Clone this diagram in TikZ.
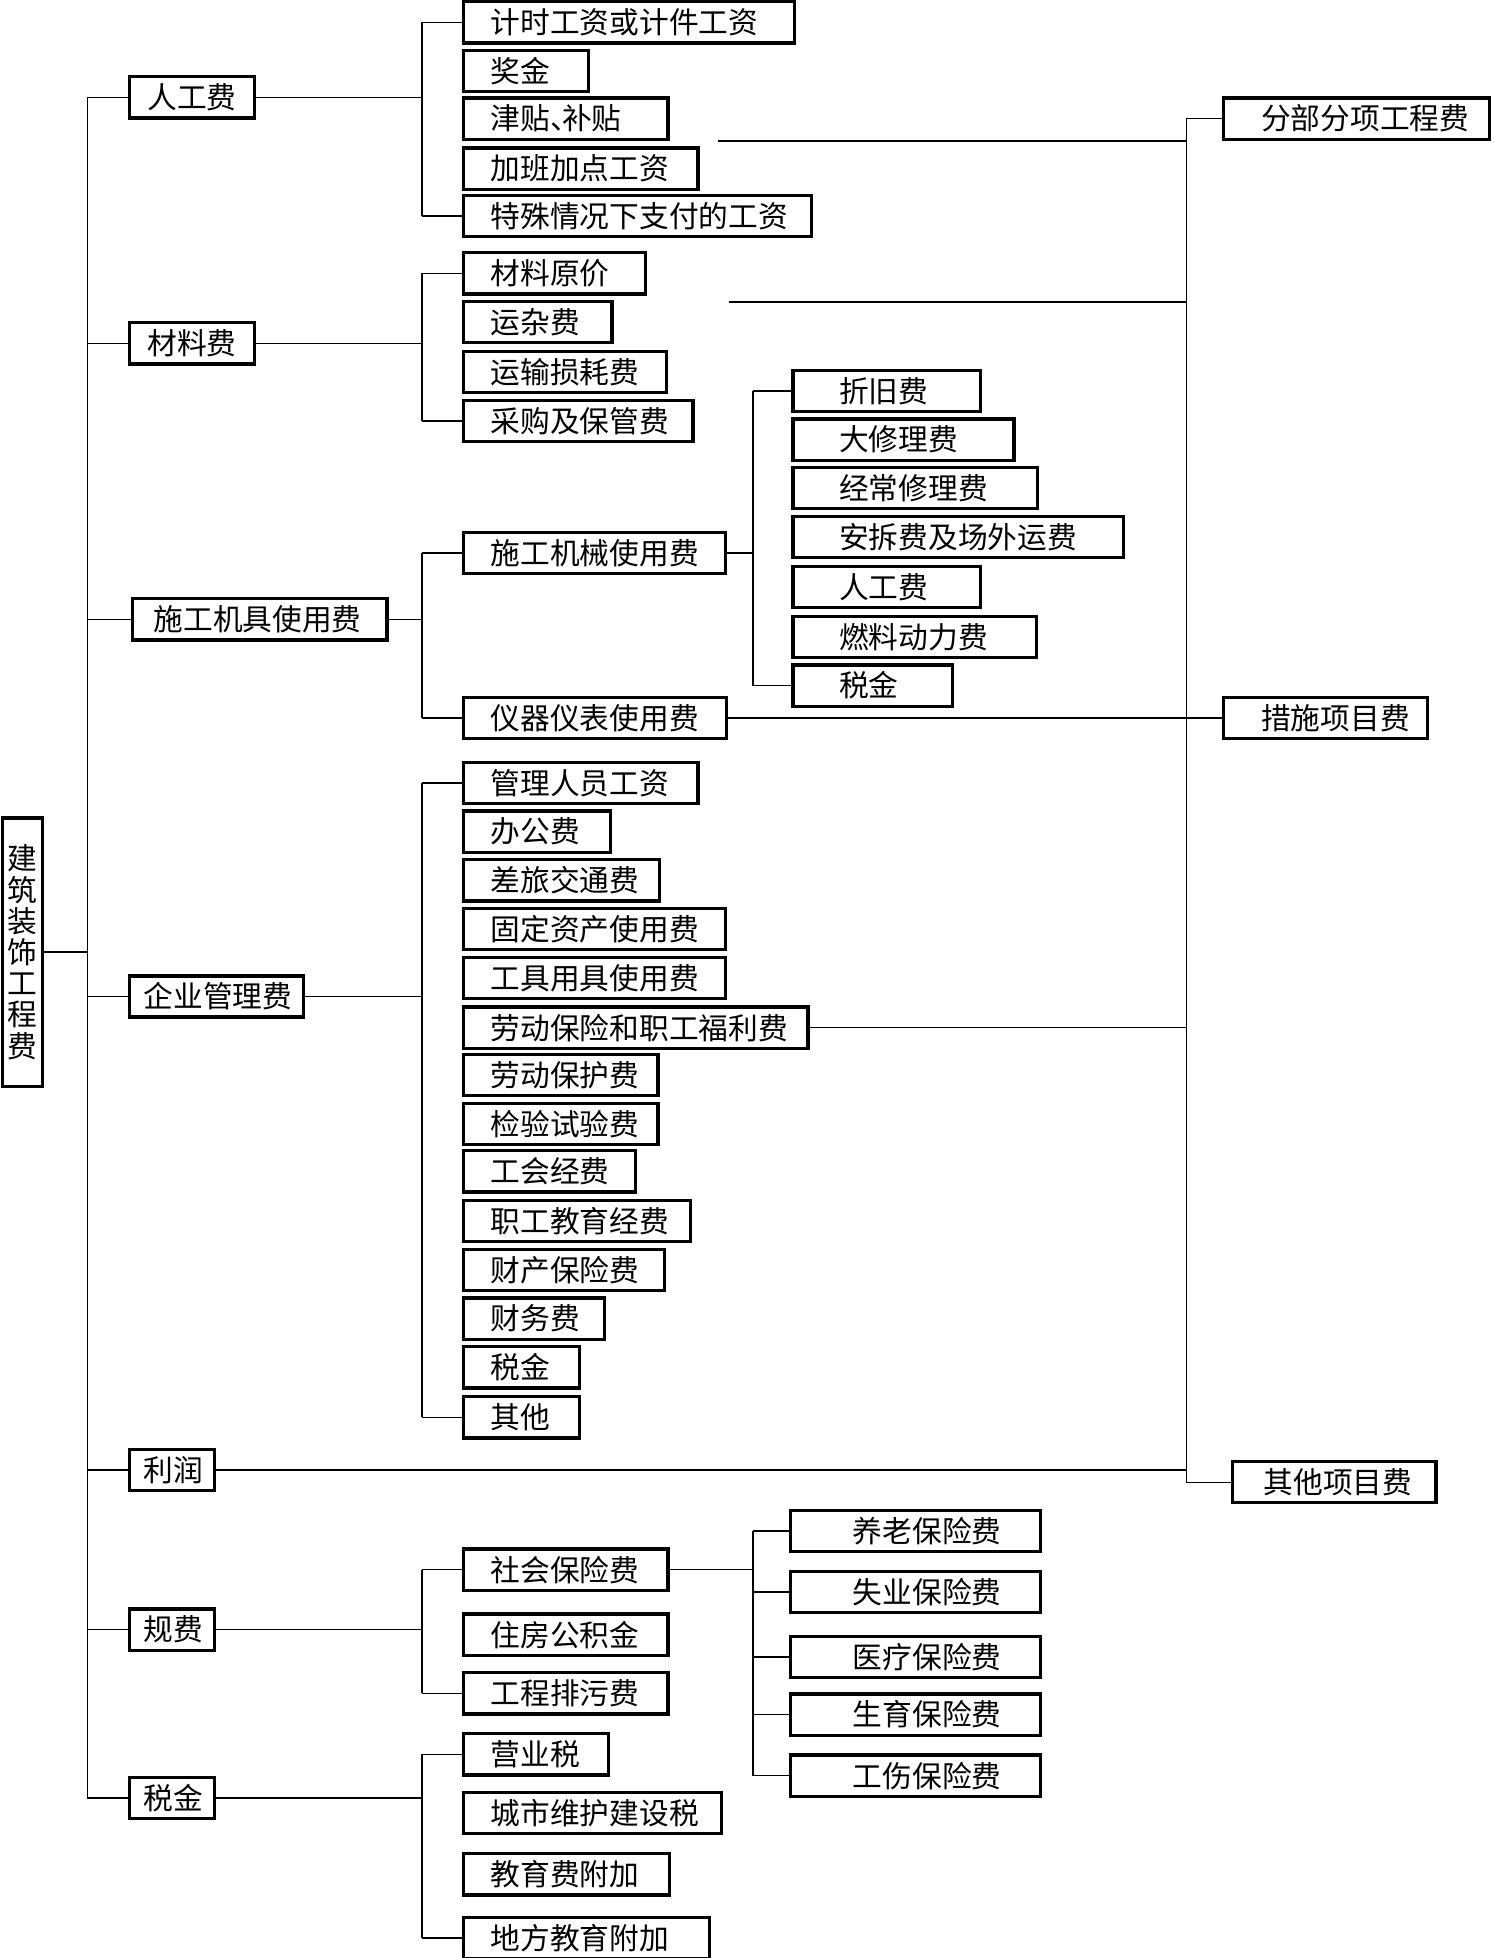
\documentclass[tikz,border=0pt]{standalone}
\usepackage{fontspec}
\newfontfamily\cjk{Noto Sans CJK SC}
\newdimen\pxu \pxu=0.5pt
\tikzset{
  bx/.style={draw, line width=1.3pt, rectangle, inner xsep=0pt, inner ysep=0pt, outer sep=0pt,
    minimum height=33\pxu, font=\cjk\fontsize{11.9pt}{14pt}\selectfont},
  ln/.style={line width=0.6pt},
}
\newcommand\bx[6]{\node[bx, anchor=west] (#1) at (#2,#4) {\makebox[\dimexpr#3\pxu-#2\pxu\relax][l]{\hspace*{#5\pxu}#6}};}
\newcommand\kid[2]{\draw[ln] (#2.west -| #1) -- (#2.west);}
\begin{document}
\begin{tikzpicture}[x=0.5pt,y=-0.5pt]
\useasboundingbox (0,0) rectangle (1196,1568);
% columns
\coordinate (m) at (70,0);
\coordinate (k) at (338,0);
\coordinate (kk) at (603,0);
\coordinate (rv) at (950,0);
% root
\node[bx, minimum width=32\pxu, minimum height=215\pxu, align=center, anchor=north west,
  font=\cjk\fontsize{11.9pt}{25\pxu}\selectfont] (root) at (2,655) {建\\筑\\装\\饰\\工\\程\\费};
% level 1
\bx{l1}{104}{204}{78}{14}{人工费}
\bx{l2}{104}{204}{275}{14}{材料费}
\bx{l3}{106}{310}{496}{17}{施工机具使用费}
\bx{l4}{104}{243}{798}{11}{企业管理费}
\bx{l5}{104}{172}{1177}{11}{利润}
\bx{l6}{104}{172}{1305}{11}{规费}
\bx{l7}{104}{172}{1440}{11}{税金}
% labour
\bx{a1}{371}{636}{18}{22}{计时工资或计件工资}
\bx{a2}{371}{471}{57}{22}{奖金}
\bx{a3}{371}{535}{95}{22}{津贴\makebox[0.4em][l]{、}补贴}
\bx{a4}{371}{559}{135}{22}{加班加点工资}
\bx{a5}{371}{650}{173}{22}{特殊情况下支付的工资}
% material
\bx{b1}{371}{517}{219}{22}{材料原价}
\bx{b2}{371}{490}{258}{22}{运杂费}
\bx{b3}{371}{534}{298}{22}{运输损耗费}
\bx{b4}{371}{555}{337}{22}{采购及保管费}
% machinery
\bx{c1}{371}{581}{443}{22}{施工机械使用费}
\bx{c2}{371}{582}{575}{22}{仪器仪表使用费}
\bx{d1}{635}{785}{313}{37}{折旧费}
\bx{d2}{635}{812}{352}{37}{大修理费}
\bx{d3}{635}{831}{391}{37}{经常修理费}
\bx{d4}{635}{900}{430}{37}{安拆费及场外运费}
\bx{d5}{635}{785}{470}{37}{人工费}
\bx{d6}{635}{830}{510}{37}{燃料动力费}
\bx{d7}{635}{763}{549}{37}{税金}
% management
\bx{e1}{371}{559}{627}{22}{管理人员工资}
\bx{e2}{371}{489}{666}{22}{办公费}
\bx{e3}{371}{528}{705}{22}{差旅交通费}
\bx{e4}{371}{581}{744}{22}{固定资产使用费}
\bx{e5}{371}{581}{783}{22}{工具用具使用费}
\bx{e6}{371}{647}{823}{22}{劳动保险和职工福利费}
\bx{e7}{371}{527}{861}{22}{劳动保护费}
\bx{e8}{371}{527}{900}{22}{检验试验费}
\bx{e9}{371}{509}{938}{22}{工会经费}
\bx{e10}{371}{553}{978}{22}{职工教育经费}
\bx{e11}{371}{532}{1017}{22}{财产保险费}
\bx{e12}{371}{484}{1056}{22}{财务费}
\bx{e13}{371}{464}{1095}{22}{税金}
\bx{e14}{371}{464}{1135}{22}{其他}
% fees
\bx{f1}{371}{535}{1257}{22}{社会保险费}
\bx{f2}{371}{535}{1309}{22}{住房公积金}
\bx{f3}{371}{535}{1356}{22}{工程排污费}
\bx{g1}{633}{833}{1226}{50}{养老保险费}
\bx{g2}{633}{833}{1275}{50}{失业保险费}
\bx{g3}{633}{833}{1327}{50}{医疗保险费}
\bx{g4}{633}{833}{1373}{50}{生育保险费}
\bx{g5}{633}{833}{1422}{50}{工伤保险费}
% taxes
\bx{h1}{371}{487}{1405}{22}{营业税}
\bx{h2}{371}{578}{1452}{22}{城市维护建设税}
\bx{h3}{371}{536}{1501}{22}{教育费附加}
\bx{h4}{371}{568}{1552}{22}{地方教育附加}
% right
\bx{r1}{980}{1193}{95}{30}{分部分项工程费}
\bx{r2}{980}{1143}{575}{30}{措施项目费}
\bx{r3}{987}{1150}{1187}{25}{其他项目费}

% connectors: root and main spine
\draw[ln] (root.east) -- (root.east -| m);
\draw[ln] (l1.west -| m) -- (l7.west -| m);
\foreach \n in {l1,l2,l3,l4,l5,l6,l7} {\kid{m}{\n}}
% labour bracket
\draw[ln] (l1.east) -- (l1.east -| k);
\draw[ln] (a1.west -| k) -- (a5.west -| k);
\foreach \n in {a1,a5} {\kid{k}{\n}}
% material bracket
\draw[ln] (l2.east) -- (l2.east -| k);
\draw[ln] (b1.west -| k) -- (b4.west -| k);
\foreach \n in {b1,b4} {\kid{k}{\n}}
% machinery bracket
\draw[ln] (l3.east) -- (l3.east -| k);
\draw[ln] (c1.west -| k) -- (c2.west -| k);
\foreach \n in {c1,c2} {\kid{k}{\n}}
\draw[ln] (c1.east) -- (c1.east -| kk);
\draw[ln] (d1.west -| kk) -- (d7.west -| kk);
\foreach \n in {d1,d7} {\kid{kk}{\n}}
% management bracket
\draw[ln] (l4.east) -- (l4.east -| k);
\draw[ln] (e1.west -| k) -- (e14.west -| k);
\foreach \n in {e1,e14} {\kid{k}{\n}}
% fees bracket
\draw[ln] (l6.east) -- (l6.east -| k);
\draw[ln] (f1.west -| k) -- (f3.west -| k);
\foreach \n in {f1,f3} {\kid{k}{\n}}
\draw[ln] (f1.east) -- (f1.east -| kk);
\draw[ln] (g1.west -| kk) -- (g5.west -| kk);
\foreach \n in {g1,g2,g3,g4,g5} {\kid{kk}{\n}}
% taxes bracket
\draw[ln] (l7.east) -- (l7.east -| k);
\draw[ln] (h1.west -| k) -- (h4.west -| k);
\foreach \n in {h1,h4} {\kid{k}{\n}}
% right side
\coordinate (p1) at (575,113);
\coordinate (p2) at (584,242);
\draw[ln] (r1.west -| rv) -- (r3.west -| rv);
\draw[ln] (r1.west -| rv) -- (r1.west);
\draw[ln] (r3.west -| rv) -- (r3.west);
\draw[ln] (p1) -- (p1 -| rv);
\draw[ln] (p2) -- (p2 -| rv);
\draw[ln] (c2.east) -- (r2.west);
\draw[ln] (e6.east) -- (e6.east -| rv);
\draw[ln] (l5.east) -- (l5.east -| rv);
\end{tikzpicture}
\end{document}
